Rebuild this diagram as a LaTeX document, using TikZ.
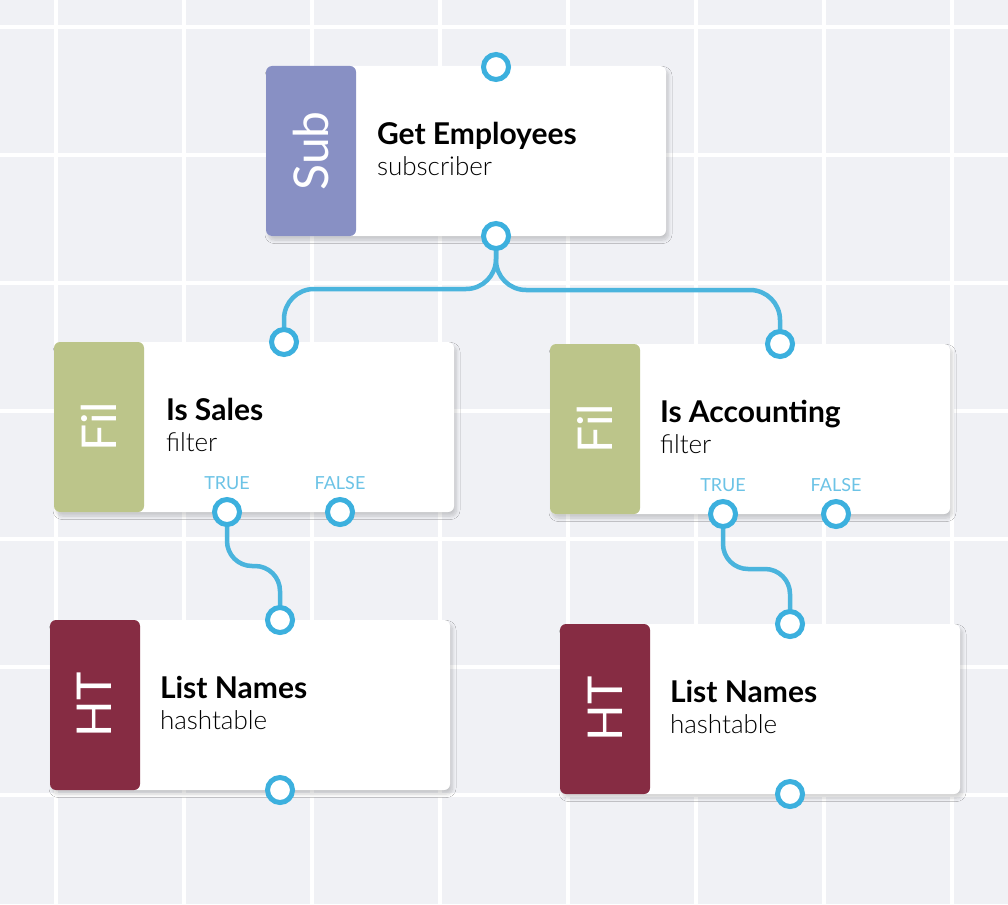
\documentclass[tikz,border=0pt]{standalone}
\usepackage{fontspec}
\setmainfont{Lato}
\newfontfamily\latolight{Lato Light}
\usetikzlibrary{shadows.blur,calc}
\definecolor{bg}{RGB}{240,241,245}
\definecolor{wire}{RGB}{74,180,221}
\definecolor{portc}{RGB}{60,176,222}
\definecolor{lblc}{RGB}{108,195,230}
\definecolor{subc}{RGB}{136,144,196}
\definecolor{filc}{RGB}{188,197,138}
\definecolor{htc}{RGB}{134,44,67}
\tikzset{
  gridline/.style={draw=white, line width=4pt},
  card/.style={fill=white, rounded corners=6pt, minimum width=400pt, minimum height=170pt, inner sep=0pt,
    blur shadow={shadow xshift=2.5pt, shadow yshift=-4pt, shadow blur radius=3.5pt, shadow opacity=18, shadow blur steps=8},
    path picture={\fill[#1] (path picture bounding box.north west) rectangle ([xshift=90pt]path picture bounding box.south west);}},
  tag/.style={rotate=90, text=white, inner sep=0pt, font=\fontsize{48}{50}\selectfont},
  title/.style={anchor=base west, inner sep=0pt, font=\bfseries\fontsize{30}{32}\selectfont},
  subtitle/.style={anchor=base west, inner sep=0pt, font=\latolight\fontsize{26}{28}\selectfont},
  outlbl/.style={anchor=base, inner sep=0pt, text=lblc, font=\fontsize{18}{19}\selectfont},
  port/.style={circle, draw=portc, line width=5pt, fill=white, minimum size=25pt, inner sep=0pt},
  wire/.style={draw=wire, line width=4.5pt},
}
\begin{document}
\begin{tikzpicture}[x=1pt,y=-1pt]
\fill[bg] (0,0) rectangle (1008,904);
\useasboundingbox (0,0) rectangle (1008,904);
\foreach \x in {56,184,...,952} \draw[gridline] (\x,0) -- (\x,904);
\foreach \y in {27,155,...,795} \draw[gridline] (0,\y) -- (1008,\y);

% cards
\node[card=subc] (n1) at (466,151) {};
\node[card=filc] (n2) at (254,427) {};
\node[card=filc] (n3) at (750,429) {};
\node[card=htc]  (n4) at (250,705) {};
\node[card=htc]  (n5) at (760,709) {};

% tags
\node[tag] (g1) at ([xshift=45pt]n1.west) {Sub};
\node[tag] (g2) at ([xshift=45pt]n2.west) {Fil};
\node[tag] (g3) at ([xshift=45pt]n3.west) {Fil};
\node[tag] (g4) at ([xshift=45pt]n4.west) {HT};
\node[tag] (g5) at ([xshift=45pt]n5.west) {HT};

% titles
\node[title] (t1) at ($(n1.north west)+(111,79)$) {Get Employees};
\node[subtitle] (s1) at ($(n1.north west)+(111,110)$) {subscriber};
\node[title] (t2) at ($(n2.north west)+(112,79)$) {Is Sales};
\node[subtitle] (s2) at ($(n2.north west)+(112,110)$) {filter};
\node[title] (t3) at ($(n3.north west)+(110,79)$) {Is Accounting};
\node[subtitle] (s3) at ($(n3.north west)+(110,110)$) {filter};
\node[title] (t4) at ($(n4.north west)+(110,79)$) {List Names};
\node[subtitle] (s4) at ($(n4.north west)+(110,110)$) {hashtable};
\node[title] (t5) at ($(n5.north west)+(110,79)$) {List Names};
\node[subtitle] (s5) at ($(n5.north west)+(110,110)$) {hashtable};

% port coordinates
\coordinate (c1t) at (496,67);
\coordinate (c1b) at (496,236);
\coordinate (c2t) at (284,342);
\coordinate (c2T) at (227,512);
\coordinate (c2F) at (340,512);
\coordinate (c3t) at (780,344);
\coordinate (c3T) at (723,514);
\coordinate (c3F) at (836,514);
\coordinate (c4t) at (280,620);
\coordinate (c4b) at (280,790);
\coordinate (c5t) at (790,624);
\coordinate (c5b) at (790,794);
\coordinate (m12) at ($(c1b)!.5!(c2t)$);
\coordinate (m13) at ($(c1b)!.5!(c3t)$);
\coordinate (m24) at ($(c2T)!.5!(c4t)$);
\coordinate (m35) at ($(c3T)!.5!(c5t)$);

% wires
\draw[wire, rounded corners=30pt] (c1b) -- (c1b|-m12) -- (c2t|-m12) -- (c2t);
\draw[wire, rounded corners=30pt] (c1b) -- (c1b|-m13) -- (c3t|-m13) -- (c3t);
\draw[wire, rounded corners=25pt] (c2T) -- (c2T|-m24) -- (c4t|-m24) -- (c4t);
\draw[wire, rounded corners=25pt] (c3T) -- (c3T|-m35) -- (c5t|-m35) -- (c5t);

% ports
\foreach \p in {1t,1b,2t,2T,2F,3t,3T,3F,4t,4b,5t,5b}
  \node[port] (p\p) at (c\p) {};

% output labels
\node[outlbl] (l2T) at ($(p2T)+(0,-23)$) {TRUE};
\node[outlbl] (l2F) at ($(p2F)+(0,-23)$) {FALSE};
\node[outlbl] (l3T) at ($(p3T)+(0,-23)$) {TRUE};
\node[outlbl] (l3F) at ($(p3F)+(0,-23)$) {FALSE};
\end{tikzpicture}
\end{document}
